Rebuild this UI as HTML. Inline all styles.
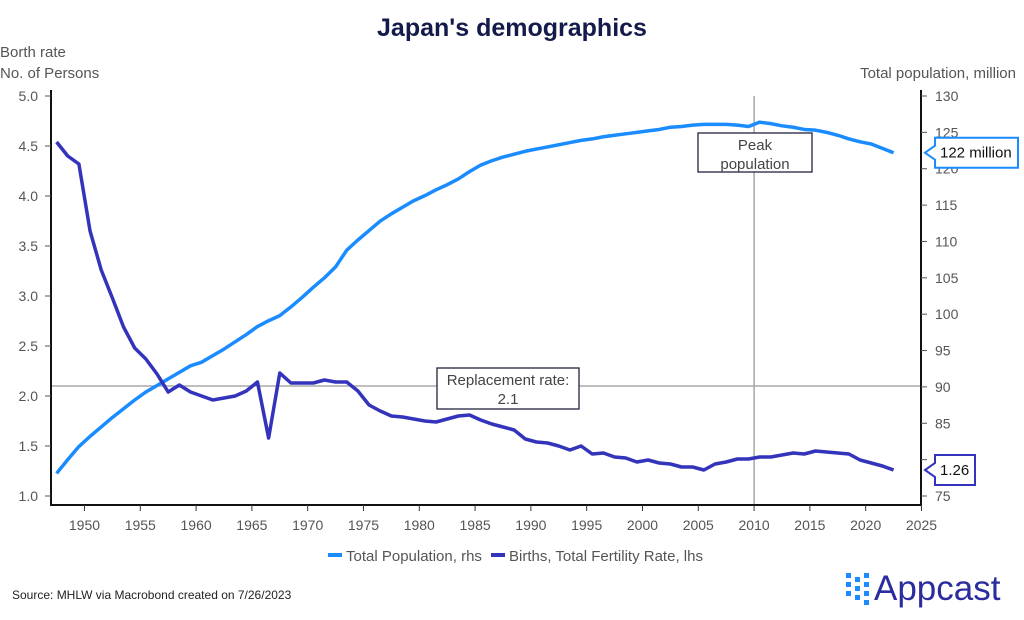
<!DOCTYPE html>
<html><head><meta charset="utf-8"><style>
body{margin:0;background:#fff;width:1024px;height:615px;overflow:hidden;font-family:"Liberation Sans",sans-serif}
svg text{font-family:"Liberation Sans",sans-serif}
</style></head><body>
<svg id="chart" width="1024" height="615">
<text x="512" y="36" text-anchor="middle" font-size="25" font-weight="bold" fill="#141a4a">Japan's demographics</text>
<text x="0" y="57" font-size="15" fill="#555">Borth rate</text>
<text x="0" y="78" font-size="15" fill="#555">No. of Persons</text>
<text x="1016" y="78" text-anchor="end" font-size="15" fill="#555">Total population, million</text>
<g id="grid"></g><g id="axes"></g><g id="series"></g><g id="ann"></g>
<g>
<rect x="328" y="553" width="14" height="4" fill="#1a8cff"/>
<text x="346" y="561" font-size="15" fill="#555">Total Population, rhs</text>
<rect x="491" y="553" width="14" height="4" fill="#3333bb"/>
<text x="509" y="561" font-size="15" fill="#555">Births, Total Fertility Rate, lhs</text>
</g>
<text x="12" y="599" font-size="12" fill="#222">Source: MHLW via Macrobond created on 7/26/2023</text>
<g>
<g fill="#1a8cff"><rect x="846" y="573" width="5" height="5"/><rect x="846" y="582" width="5" height="5"/><rect x="846" y="591" width="5" height="5"/><rect x="855" y="577" width="5" height="5"/><rect x="855" y="586" width="5" height="5"/><rect x="855" y="595" width="5" height="5"/><rect x="864" y="573" width="5" height="5"/><rect x="864" y="582" width="5" height="5"/><rect x="864" y="591" width="5" height="5"/><rect x="864" y="600" width="5" height="5"/></g>
<text x="874" y="600" font-size="35" fill="#2b2d9e">Appcast</text>
</g>
</svg>
<script>
const years=[];for(let y=1947;y<=2022;y++)years.push(y);
const fertility=[4.54,4.40,4.32,3.65,3.26,2.98,2.69,2.48,2.37,2.22,2.04,2.11,2.04,2.00,1.96,1.98,2.00,2.05,2.14,1.58,2.23,2.13,2.13,2.13,2.16,2.14,2.14,2.05,1.91,1.85,1.80,1.79,1.77,1.75,1.74,1.77,1.80,1.81,1.76,1.72,1.69,1.66,1.57,1.54,1.53,1.50,1.46,1.50,1.42,1.43,1.39,1.38,1.34,1.36,1.33,1.32,1.29,1.29,1.26,1.32,1.34,1.37,1.37,1.39,1.39,1.41,1.43,1.42,1.45,1.44,1.43,1.42,1.36,1.33,1.30,1.26];
const population=[78.1,80.0,81.8,83.2,84.5,85.8,87.0,88.2,89.3,90.2,91.1,92.0,92.9,93.4,94.3,95.2,96.2,97.2,98.3,99.1,99.8,101.0,102.3,103.7,105.0,106.5,108.8,110.2,111.5,112.8,113.8,114.7,115.6,116.3,117.1,117.8,118.6,119.6,120.5,121.1,121.6,122.0,122.4,122.7,123.0,123.3,123.6,123.9,124.1,124.4,124.6,124.8,125.0,125.2,125.4,125.7,125.8,126.0,126.1,126.1,126.1,126.0,125.8,126.4,126.2,125.9,125.7,125.4,125.3,125.0,124.6,124.1,123.7,123.4,122.8,122.2];
const xTicks=[1950,1955,1960,1965,1970,1975,1980,1985,1990,1995,2000,2005,2010,2015,2020,2025];
const leftTicks=[1.0,1.5,2.0,2.5,3.0,3.5,4.0,4.5,5.0];
const rightTicks=[75,80,85,90,95,100,105,110,115,120,125,130];
const replacementRate=2.1, peakYear=2010;
const X=y=>51+(y-1947)*11.16;
const YL=v=>496-(v-1)*100;
const YR=v=>496-(v-75)*400/55;
const NS='http://www.w3.org/2000/svg';
function mk(p,t,a){const e=document.createElementNS(NS,t);for(const k in a)e.setAttribute(k,a[k]);p.appendChild(e);return e;}
const grid=document.getElementById('grid'),axes=document.getElementById('axes'),ser=document.getElementById('series'),ann=document.getElementById('ann');
let e=mk(grid,'line',{x1:51,x2:921,y1:YL(replacementRate),y2:YL(replacementRate),stroke:'#999','stroke-width':1.3});


e=mk(grid,'line',{x1:X(peakYear),x2:X(peakYear),y1:96,y2:505,stroke:'#999','stroke-width':1.3});


e=mk(axes,'path',{d:'M51,90V505H921V90',fill:'none',stroke:'#111','stroke-width':2});


xTicks.forEach(t=>{mk(axes,'line',{x1:X(t),x2:X(t),y1:505,y2:511,stroke:'#333'});
e=mk(axes,'text',{x:X(t),y:530,'text-anchor':'middle','font-size':14,fill:'#555'});e.textContent=t;

});
leftTicks.forEach(t=>{mk(axes,'line',{x1:45,x2:51,y1:YL(t),y2:YL(t),stroke:'#555'});
e=mk(axes,'text',{x:38,y:YL(t)+5,'text-anchor':'end','font-size':14,fill:'#555'});e.textContent=t.toFixed(1);

});
rightTicks.forEach(t=>{mk(axes,'line',{x1:921,x2:927,y1:YR(t),y2:YR(t),stroke:'#555'});
e=mk(axes,'text',{x:935,y:YR(t)+5,'font-size':14,fill:'#555'});e.textContent=t;

});
e=mk(ser,'polyline',{points:years.map((y,i)=>X(y+0.5)+','+YR(population[i])).join(' '),fill:'none',stroke:'#1a8cff','stroke-width':3.5,'stroke-linejoin':'round'});


e=mk(ser,'polyline',{points:years.map((y,i)=>X(y+0.5)+','+YL(fertility[i])).join(' '),fill:'none',stroke:'#3333bb','stroke-width':3.5,'stroke-linejoin':'round'});


function box(x,y,w,h,lines,name){const g=mk(ann,'g',{});


mk(g,'rect',{x,y,width:w,height:h,fill:'#fff',stroke:'#222240','stroke-width':1.3});
lines.forEach((l,i)=>{const t=mk(g,'text',{x:x+w/2,y:y+17+i*19,'text-anchor':'middle','font-size':15,fill:'#444'});t.textContent=l;});}
box(698,133,114,39,['Peak','population'],'peak-population-annotation');
box(437,368,142,41,['Replacement rate:','2.1'],'replacement-rate-annotation');
function callout(y0,y1,w,txt,col,name){const tip=(y0+y1)/2;const g=mk(ann,'g',{});


mk(g,'path',{d:`M935,${y0}H${935+w}V${y1}H935V${tip+7}L925,${tip}L935,${tip-7}Z`,fill:'#fff',stroke:col,'stroke-width':2});
const t=mk(g,'text',{x:940,y:tip+5,'font-size':15,fill:'#111'});t.textContent=txt;}
const lastP=population[population.length-1],lastF=fertility[fertility.length-1];
callout(YR(lastP)-15,YR(lastP)+15,83,Math.round(lastP)+' million','#1a8cff','population-end-label');
callout(YL(lastF)-15,YL(lastF)+15,40,lastF.toFixed(2),'#3333bb','fertility-end-label');
</script>
</body></html>
